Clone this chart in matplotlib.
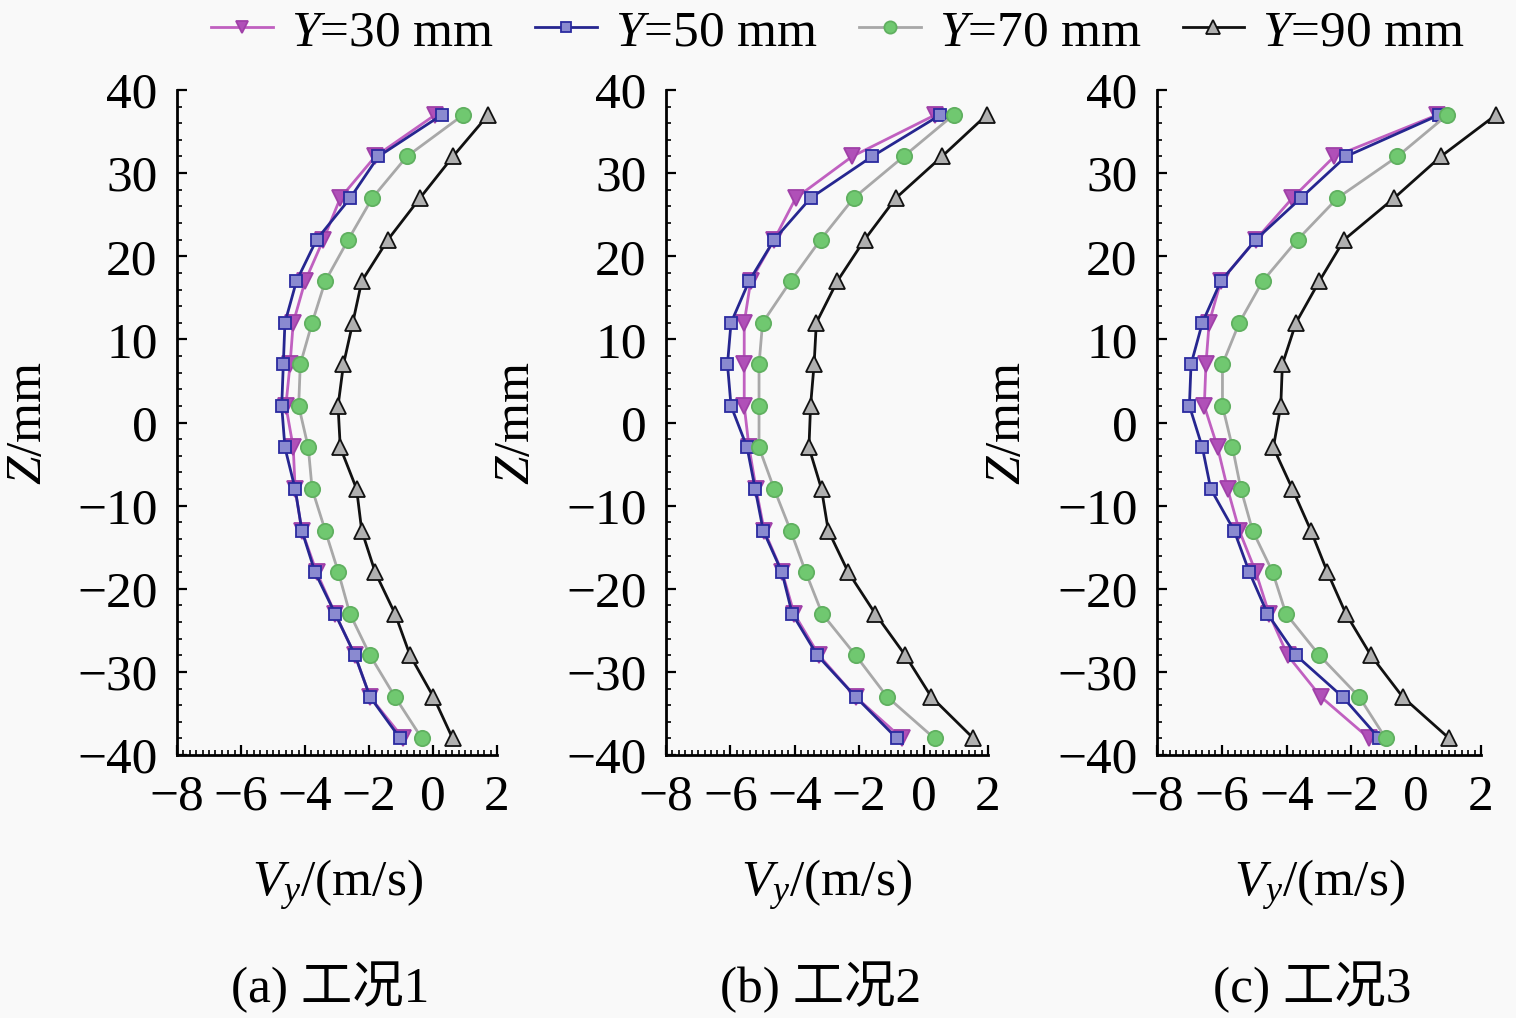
import matplotlib
matplotlib.use('Agg')
import matplotlib.pyplot as plt
from matplotlib.ticker import MultipleLocator

plt.rcParams['font.family'] = ['Liberation Serif', 'Noto Sans CJK SC']
plt.rcParams['mathtext.fontset'] = 'custom'
plt.rcParams['mathtext.rm'] = 'Liberation Serif'
plt.rcParams['mathtext.it'] = 'Liberation Serif:italic'
plt.rcParams['axes.unicode_minus'] = True

# Z positions (mm)
zList = [37, 32, 27, 22, 17, 12, 7, 2, -3, -8, -13, -18, -23, -28, -33, -38]

# case 1
v30_1 = [0.06, -1.81, -2.9, -3.43, -4.0, -4.37, -4.47, -4.6, -4.37, -4.31, -4.1, -3.64, -3.06, -2.44, -1.97, -0.93]
v50_1 = [0.27, -1.71, -2.59, -3.64, -4.27, -4.63, -4.68, -4.73, -4.63, -4.31, -4.1, -3.69, -3.06, -2.44, -1.97, -1.03]
v70_1 = [0.94, -0.82, -1.9, -2.65, -3.37, -3.78, -4.15, -4.2, -3.9, -3.78, -3.37, -2.96, -2.6, -1.97, -1.19, -0.35]
v90_1 = [1.72, 0.62, -0.41, -1.41, -2.23, -2.51, -2.8, -2.97, -2.9, -2.39, -2.23, -1.81, -1.19, -0.72, 0.01, 0.61]

# case 2
v30_2 = [0.36, -2.22, -3.97, -4.64, -5.37, -5.57, -5.57, -5.57, -5.42, -5.2, -4.95, -4.39, -4.02, -3.25, -2.11, -0.67]
v50_2 = [0.52, -1.6, -3.51, -4.64, -5.42, -5.98, -6.09, -5.98, -5.48, -5.23, -4.98, -4.4, -4.08, -3.3, -2.11, -0.83]
v70_2 = [0.93, -0.62, -2.17, -3.2, -4.13, -5.0, -5.11, -5.11, -5.11, -4.64, -4.13, -3.66, -3.15, -2.11, -1.13, 0.34]
v90_2 = [1.96, 0.57, -0.86, -1.83, -2.68, -3.33, -3.4, -3.51, -3.56, -3.17, -2.96, -2.34, -1.5, -0.57, 0.24, 1.55]

# case 3
v30_3 = [0.65, -2.53, -3.82, -4.95, -6.03, -6.39, -6.49, -6.54, -6.13, -5.82, -5.46, -4.95, -4.54, -3.97, -2.94, -1.45]
v50_3 = [0.71, -2.17, -3.56, -4.95, -6.03, -6.6, -6.95, -7.0, -6.6, -6.34, -5.62, -5.15, -4.59, -3.71, -2.27, -1.14]
v70_3 = [0.96, -0.58, -2.43, -3.66, -4.74, -5.46, -5.98, -5.98, -5.67, -5.41, -5.05, -4.43, -4.02, -2.99, -1.76, -0.94]
v90_3 = [2.46, 0.76, -0.68, -2.22, -2.99, -3.71, -4.13, -4.18, -4.41, -3.82, -3.25, -2.74, -2.17, -1.4, -0.42, 1.02]

seriesLabels = [r'$Y$=30 mm', r'$Y$=50 mm', r'$Y$=70 mm', r'$Y$=90 mm']
captions = ['(a) 工况1', '(b) 工况2', '(c) 工况3']
panels = [[v30_1, v50_1, v70_1, v90_1],
          [v30_2, v50_2, v70_2, v90_2],
          [v30_3, v50_3, v70_3, v90_3]]

styles = [
    dict(color='#c060c0', marker='v', mfc='#b050b8', mec='#a040a8', ms=11),
    dict(color='#262690', marker='s', mfc='#8a8ad0', mec='#2a2aa0', ms=9),
    dict(color='#a8a8a8', marker='o', mfc='#70c870', mec='#60b060', ms=11),
    dict(color='#111111', marker='^', mfc='#b0b0b0', mec='#111111', ms=12),
]

bg = '#f9f9f9'
fig = plt.figure(figsize=(15.16, 10.18), dpi=100, facecolor=bg)
lefts = [0.1168, 0.4393, 0.7632]
widths = [0.2111, 0.2124, 0.2137]

handles = []
for p in range(3):
    ax = fig.add_axes([lefts[p], 0.2583, widths[p], 0.6533], facecolor=bg)
    for s in range(4):
        ln, = ax.plot(panels[p][s], zList, lw=2, mew=1.3, clip_on=False, **styles[s])
        if p == 0:
            handles.append(ln)
    ax.set_xlim(-8, 2)
    ax.set_ylim(-40, 40)
    ax.spines['top'].set_visible(False)
    ax.spines['right'].set_visible(False)
    ax.spines['left'].set_linewidth(2)
    ax.spines['bottom'].set_linewidth(2)
    ax.xaxis.set_major_locator(MultipleLocator(2))
    ax.xaxis.set_minor_locator(MultipleLocator(0.2))
    ax.yaxis.set_major_locator(MultipleLocator(10))
    ax.yaxis.set_minor_locator(MultipleLocator(2))
    ax.tick_params(which='major', direction='in', length=7, width=1.6, labelsize=37, pad=14)
    ax.tick_params(which='minor', direction='in', length=3.5, width=1.2)
    ax.set_ylabel(r'$Z$/mm', fontsize=37)
    ax.yaxis.set_label_coords(-0.39, 0.5)
    ax.set_xlabel(r'$V_y$/(m/s)', fontsize=37)
    ax.xaxis.set_label_coords(0.5, -0.155)
    ax.text(0.48, -0.35, captions[p], transform=ax.transAxes, fontsize=37,
            ha='center', va='center')

fig.legend(handles, seriesLabels, loc='center', bbox_to_anchor=(0.553, 0.968),
           ncol=4, frameon=False, fontsize=37, handlelength=1.2,
           handletextpad=0.35, columnspacing=0.8, borderaxespad=0,
           markerscale=0.8)

plt.savefig('out.png', dpi=100, facecolor=bg)
